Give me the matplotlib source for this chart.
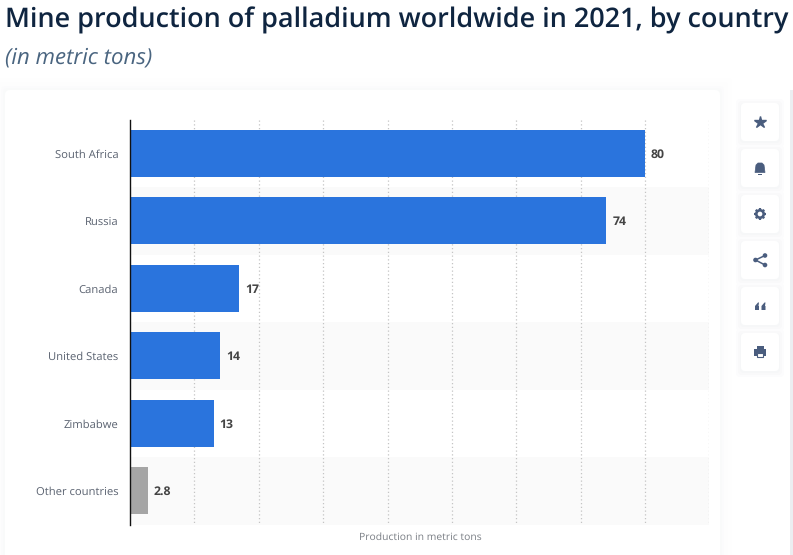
import math

import matplotlib

matplotlib.use("Agg")
import matplotlib.pyplot as plt
from matplotlib.patches import Circle, FancyBboxPatch, Polygon, Rectangle

plt.rcParams["text.hinting"] = "none"

W, H = 793, 555
DPI = 100

countries = ["South Africa", "Russia", "Canada", "United States", "Zimbabwe", "Other countries"]
production = [80, 74, 17, 14, 13, 2.8]
value_labels = ["80", "74", "17", "14", "13", "2.8"]
bar_colors = ["#2a74dd", "#2a74dd", "#2a74dd", "#2a74dd", "#2a74dd", "#a5a5a5"]
x_ticks = [10, 20, 30, 40, 50, 60, 70, 80, 90]

TITLE = "Mine production of palladium worldwide in 2021, by country"
SUBTITLE = "(in metric tons)"
X_LABEL = "Production in metric tons"

ICON = "#4a5d7e"

fig = plt.figure(figsize=(W / DPI, H / DPI), dpi=DPI, facecolor="white")

# pixel-space layer for page furniture (y goes down, like the screenshot)
bg = fig.add_axes([0, 0, 1, 1], zorder=0)
bg.set_xlim(0, W)
bg.set_ylim(H, 0)
bg.axis("off")

# page edge on the right
bg.add_patch(Rectangle((790, 90), 3, H - 90, fc="#eceef1", ec="none"))

# soft card shadow + card
for grow, col in [(12, "#fefefe"), (8, "#fdfdfd"), (4, "#fbfbfc"), (2, "#f9fafa")]:
    bg.add_patch(FancyBboxPatch(
        (5 - grow, 90 - grow), 715 + 2 * grow, 480,
        boxstyle="round,pad=0,rounding_size=5", fc=col, ec="none",
    ))
bg.add_patch(FancyBboxPatch(
    (5, 90), 715, 480, boxstyle="round,pad=0,rounding_size=5",
    fc="white", ec="none",
))

bg.text(5, 28, TITLE, family="Open Sans", fontweight=600, fontsize=19.45,
        color="#0f2540", va="baseline", ha="left")
bg.text(5, 64, SUBTITLE, family="Open Sans", style="italic", fontsize=16,
        color="#4a6580", va="baseline", ha="left")

# side buttons
button_tops = [103, 149, 195, 241, 287, 333]
for top in button_tops:
    for grow, col in [(5, "#fcfcfd"), (3, "#f9f9fa"), (1, "#f6f7f8")]:
        bg.add_patch(FancyBboxPatch(
            (741 - grow, top - grow + 1), 38 + 2 * grow, 38 + 2 * grow,
            boxstyle="round,pad=0,rounding_size=4", fc=col, ec="none",
        ))
    bg.add_patch(FancyBboxPatch(
        (741, top), 38, 38, boxstyle="round,pad=0,rounding_size=4",
        fc="white", ec="none",
    ))

cx = 760
# star
bg.plot([cx], [122], marker="*", ms=9, color=ICON, mec=ICON)
# bell
bg.add_patch(Polygon([(755, 172.5), (765, 172.5), (764, 165), (762, 163), (758, 163), (756, 165)],
                     fc=ICON, ec=ICON, lw=0.5))
bg.add_patch(Rectangle((758, 173.5), 4, 1, fc=ICON, ec="none"))
# gear
for k in range(8):
    a = k * math.pi / 4
    bg.plot([cx + 3.5 * math.cos(a), cx + 6 * math.cos(a)],
            [214 + 3.5 * math.sin(a), 214 + 6 * math.sin(a)],
            color=ICON, lw=1.6, solid_capstyle="butt")
bg.add_patch(Circle((cx, 214), 3.7, fc="white", ec=ICON, lw=1.9))
# share
for x, y in [(765, 255.5), (755.5, 260), (765, 265)]:
    bg.add_patch(Circle((x, y), 2.3, fc=ICON, ec="none"))
bg.plot([765, 755.5, 765], [255.5, 260, 265], color=ICON, lw=1.1)
# quotes
for x in (755, 761.5):
    bg.add_patch(Polygon([(x, 310), (x, 306), (x + 3, 302.5), (x + 4, 302.5), (x + 3.5, 306),
                          (x + 4, 306), (x + 4, 310)], fc=ICON, ec="none"))
# printer
bg.add_patch(Rectangle((754, 349), 12, 6.5, fc=ICON, ec="none"))
bg.add_patch(Rectangle((756.5, 345.5), 7, 3.5, fc=ICON, ec="none"))
bg.add_patch(Rectangle((757, 352.5), 6, 4.5, fc="white", ec=ICON, lw=0.8))

# chart area: 0 at x=130, 90 at x=709.5, rows from y=119.7 to y=524.7
ax = fig.add_axes([130 / W, 1 - 524.7 / H, (709.5 - 130) / W, 405 / H], zorder=2)
ax.patch.set_alpha(0)
ax.set_xlim(0, 90)
ax.set_ylim(5.5, -0.5)

for i in range(len(countries)):
    if i % 2 == 1:
        ax.axhspan(i - 0.5, i + 0.5, fc="#fafafa", ec="none", zorder=0)

ax.vlines(x_ticks, -0.5, 5.5, color="#c4c4c4", lw=0.9, linestyles=(0, (1, 2)), zorder=1)

ax.barh(range(len(countries)), production, height=0.695, color=bar_colors, zorder=2)

for i, (v, s) in enumerate(zip(production, value_labels)):
    ax.annotate(s, (v, i), xytext=(4.2, -0.9), textcoords="offset points",
                family="Open Sans", fontweight="bold", fontsize=8.8,
                color="#444444", va="center", ha="left", zorder=3)

ax.set_yticks(range(len(countries)))
ax.set_yticklabels(countries, family="Open Sans", fontsize=8.15, color="#5a6270")
ax.tick_params(axis="y", length=0, pad=8.5)
ax.set_xticks([])

for side in ("top", "right", "bottom"):
    ax.spines[side].set_visible(False)
ax.spines["left"].set_color("#111111")
ax.spines["left"].set_linewidth(1.0)

bg.text(420.5, 537, X_LABEL, family="Open Sans", fontsize=7.5, color="#7a7f85",
        va="center", ha="center")

fig.savefig("out.png", dpi=DPI)
